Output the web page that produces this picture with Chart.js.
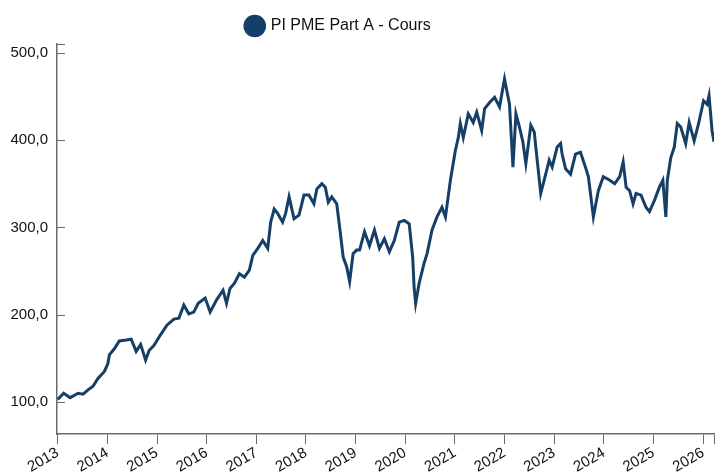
<!DOCTYPE html>
<html>
<head>
<meta charset="utf-8">
<script src="https://cdn.jsdelivr.net/npm/chart.js@4"></script>
<style>
  html, body { margin: 0; padding: 0; background: #fff; }
  #wrap { width: 723px; height: 473px; }
</style>
</head>
<body>
<div id="wrap"><canvas id="cours"></canvas></div>
<script>
// dates en annees decimales, cours de la part
var annees = [
  2013.00, 2013.12, 2013.25, 2013.41, 2013.51, 2013.61, 2013.71, 2013.81, 2013.94, 2014.01,
  2014.04, 2014.14, 2014.24, 2014.38, 2014.48, 2014.58, 2014.67, 2014.77, 2014.84, 2014.94,
  2015.07, 2015.20, 2015.34, 2015.44, 2015.54, 2015.64, 2015.74, 2015.83, 2015.97, 2016.07,
  2016.20, 2016.33, 2016.40, 2016.47, 2016.56, 2016.66, 2016.76, 2016.86, 2016.93, 2017.03,
  2017.13, 2017.23, 2017.29, 2017.36, 2017.43, 2017.53, 2017.59, 2017.66, 2017.76, 2017.86,
  2017.96, 2018.06, 2018.16, 2018.22, 2018.32, 2018.39, 2018.45, 2018.52, 2018.62, 2018.69,
  2018.75, 2018.82, 2018.88, 2018.95, 2019.02, 2019.08, 2019.18, 2019.28, 2019.38, 2019.48,
  2019.58, 2019.68, 2019.78, 2019.88, 2019.98, 2020.08, 2020.15, 2020.18, 2020.21, 2020.28,
  2020.38, 2020.44, 2020.54, 2020.64, 2020.74, 2020.81, 2020.91, 2021.01, 2021.07, 2021.11,
  2021.17, 2021.27, 2021.37, 2021.44, 2021.54, 2021.60, 2021.70, 2021.80, 2021.90, 2022.00,
  2022.10, 2022.17, 2022.23, 2022.30, 2022.37, 2022.43, 2022.53, 2022.60, 2022.63, 2022.73,
  2022.83, 2022.90, 2022.96, 2023.06, 2023.13, 2023.16, 2023.23, 2023.33, 2023.43, 2023.53,
  2023.63, 2023.69, 2023.79, 2023.89, 2023.99, 2024.12, 2024.22, 2024.32, 2024.39, 2024.45,
  2024.52, 2024.59, 2024.65, 2024.75, 2024.85, 2024.92, 2025.02, 2025.12, 2025.19, 2025.25,
  2025.28, 2025.35, 2025.42, 2025.48, 2025.55, 2025.65, 2025.72, 2025.82, 2025.91, 2026.01,
  2026.08, 2026.12, 2026.18, 2026.22
];
var cours = [
  103, 110, 105, 110, 109, 114, 118, 127, 135, 144,
  154, 161, 170, 171, 172, 158, 166, 148, 159, 165,
  177, 188, 195, 196, 211, 201, 203, 213, 219, 203,
  217, 228, 213, 230, 236, 247, 243, 251, 268, 276,
  285, 276, 306, 321, 316, 306, 316, 335, 310, 314,
  337, 337, 327, 344, 350, 346, 329, 335, 327, 295,
  266, 255, 238, 270, 274, 274, 295, 279, 297, 276,
  287, 272, 285, 306, 308, 304, 266, 230, 213, 236,
  259, 270, 297, 312, 323, 312, 354, 388, 403, 419,
  403, 430, 420, 432, 411, 436, 443, 449, 438, 470,
  441, 369, 430, 415, 398, 373, 417, 409, 392, 339,
  361, 377, 369, 392, 396, 384, 367, 361, 384, 386,
  369, 358, 312, 342, 358, 354, 350, 358, 375, 346,
  342, 327, 339, 337, 323, 318, 331, 346, 354, 312,
  354, 380, 392, 419, 415, 396, 420, 399, 419, 445,
  441, 451, 411, 398
];
var serie_label = 'PI PME Part A - Cours';
var ticks_annees = [2013, 2014, 2015, 2016, 2017, 2018, 2019, 2020, 2021, 2022, 2023, 2024, 2025, 2026];
var ticks_cours = [100, 200, 300, 400, 500];

var x_min = 2012.985, x_max = 2026.22;
var y_min = 63.4, y_max = 510;
var couleur = '#153f67';
var gris = '#6b6b6b';

var points = annees.map((a, i) => ({ x: a, y: cours[i] }));

// petits traits vers l'interieur sur l'axe des ordonnees
var traits_y = {
  id: 'traits_y',
  afterDraw(chart) {
    var ctx = chart.ctx;
    var sy = chart.scales.y;
    var x0 = chart.chartArea.left;
    ctx.save();
    ctx.strokeStyle = gris;
    ctx.lineWidth = 1;
    ticks_cours.concat([y_max]).forEach(v => {
      var py = Math.round(sy.getPixelForValue(v)) + 0.5;
      ctx.beginPath();
      ctx.moveTo(x0, py);
      ctx.lineTo(x0 + 8, py);
      ctx.stroke();
    });
    ctx.restore();
  }
};

Chart.defaults.font.family = "'Liberation Sans', Arial, sans-serif";
Chart.defaults.color = '#111';

new Chart(document.getElementById('cours').getContext('2d'), {
  type: 'line',
  data: {
    datasets: [{
      label: serie_label,
      data: points,
      borderColor: couleur,
      backgroundColor: couleur,
      borderWidth: 3,
      pointRadius: 0,
      tension: 0,
      fill: false
    }]
  },
  options: {
    responsive: true,
    maintainAspectRatio: false,
    animation: false,
    layout: { padding: { top: 4, right: 1, left: 0, bottom: 0 } },
    plugins: {
      tooltip: { enabled: false },
      legend: {
        display: true,
        position: 'top',
        labels: {
          usePointStyle: true,
          pointStyle: 'circle',
          font: { size: 16 },
          color: '#111',
          padding: 14,
          generateLabels(chart) {
            var items = Chart.defaults.plugins.legend.labels.generateLabels(chart);
            items.forEach(it => { it.text = it.text + '          '; it.lineWidth = 0; });
            return items;
          }
        }
      }
    },
    scales: {
      x: {
        type: 'linear',
        min: x_min,
        max: x_max,
        afterBuildTicks(s) {
          s.ticks = [{ value: x_min }].concat(ticks_annees.map(v => ({ value: v }))).concat([{ value: x_max }]);
        },
        afterFit(s) { s.height = 39; },
        grid: { drawOnChartArea: false, drawTicks: true, tickLength: 10, color: gris, lineWidth: 1 },
        border: { color: gris, width: 1.5 },
        ticks: {
          autoSkip: false,
          minRotation: 30,
          maxRotation: 30,
          padding: 0,
          font: { size: 15 },
          color: '#111',
          callback: v => (Number.isInteger(v) ? String(v) : '')
        }
      },
      y: {
        type: 'linear',
        min: y_min,
        max: y_max,
        afterBuildTicks(s) {
          s.ticks = ticks_cours.map(v => ({ value: v }));
        },
        afterFit(s) { s.width = 57; },
        grid: { drawOnChartArea: false, drawTicks: false },
        border: { color: gris, width: 1.5 },
        ticks: {
          padding: 9,
          font: { size: 15 },
          color: '#111',
          callback: v => v.toFixed(1).replace('.', ',')
        }
      }
    }
  },
  plugins: [traits_y]
});
</script>
</body>
</html>
